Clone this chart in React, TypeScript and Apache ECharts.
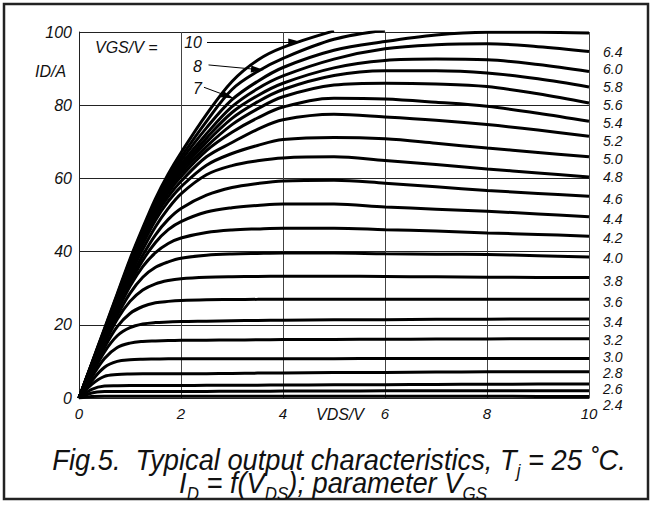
import { useEffect, useRef } from "react";
import * as echarts from "echarts";

// Drain-source voltage sample points (V)
const vds = [0, 0.25, 0.5, 0.75, 1, 1.25, 1.5, 1.75, 2, 2.5, 3, 3.5, 4, 5, 6, 7, 8, 9, 10];

// Drain current (A) for each gate-source voltage, sampled at vds
const id10 = [0, 9.5, 19.0, 28.5, 38.0, 46.5, 54.5, 61.2, 67.0, 77.5, 86.5, 92.3, 95.8, 100.3, null, null, null, null, null];
const id8 = [0, 9.4, 18.8, 28.2, 37.5, 46.0, 53.8, 60.3, 65.8, 75.6, 84.3, 89.2, 92.8, 98.0, 100.5, null, null, null, null];
const id7 = [0, 9.3, 18.6, 27.9, 37.1, 45.5, 53.2, 59.5, 64.8, 73.8, 81.5, 86.5, 90.3, 95.0, 97.4, 99.2, 99.9, 99.9, 99.7];
const id6_4 = [0, 9.2, 18.4, 27.6, 36.7, 45.1, 52.6, 58.7, 63.8, 72.2, 79.6, 84.5, 88.0, 92.6, 95.4, 96.5, 96.8, 96.0, 94.7];
const id6_0 = [0, 9.15, 18.3, 27.4, 36.4, 44.7, 52.1, 58.1, 63.0, 71.0, 78.0, 82.6, 86.0, 90.2, 92.2, 92.6, 92.4, 91.1, 89.2];
const id5_8 = [0, 9.1, 18.2, 27.2, 36.1, 44.3, 51.6, 57.5, 62.3, 69.9, 76.4, 80.9, 84.3, 88.1, 89.4, 89.4, 88.8, 87.2, 85.0];
const id5_6 = [0, 9.05, 18.1, 27.0, 35.8, 43.9, 51.1, 56.9, 61.5, 68.7, 74.7, 79.0, 82.3, 85.5, 86.0, 85.8, 85.1, 83.1, 80.6];
const id5_4 = [0, 9.0, 17.9, 26.8, 35.4, 43.4, 50.5, 56.1, 60.5, 67.6, 72.6, 76.5, 79.5, 81.9, 81.7, 80.8, 79.7, 77.8, 75.6];
const id5_2 = [0, 8.9, 17.7, 26.5, 35.0, 42.8, 49.7, 55.0, 59.2, 65.9, 69.8, 73.4, 76.0, 77.5, 76.8, 75.9, 74.7, 73.2, 71.5];
const id5_0 = [0, 8.8, 17.5, 26.1, 34.4, 42.0, 48.6, 53.7, 57.7, 63.6, 66.8, 69.0, 70.6, 71.2, 70.8, 69.6, 68.3, 67.1, 65.9];
const id4_8 = [0, 8.6, 17.1, 25.5, 33.5, 40.6, 46.8, 51.8, 55.8, 61.0, 63.5, 64.8, 65.6, 65.9, 64.9, 63.8, 62.6, 61.5, 60.4];
const id4_6 = [0, 8.4, 16.7, 24.8, 32.4, 39.0, 44.6, 48.8, 51.8, 55.4, 57.5, 58.6, 59.3, 59.5, 58.7, 57.7, 56.7, 55.9, 55.1];
const id4_4 = [0, 8.25, 16.3, 24.2, 31.4, 37.6, 42.5, 46.0, 48.2, 50.8, 52.0, 52.6, 53.0, 53.0, 52.2, 51.6, 51.0, 50.3, 49.5];
const id4_2 = [0, 8.1, 15.9, 23.6, 30.5, 35.9, 39.7, 42.2, 43.7, 45.2, 45.9, 46.2, 46.4, 46.4, 46.0, 45.6, 45.1, 44.7, 44.2];
const id4_0 = [0, 7.8, 15.4, 22.6, 28.6, 33.0, 35.7, 37.2, 38.2, 39.0, 39.35, 39.5, 39.6, 39.6, 39.4, 39.3, 39.2, 38.9, 38.5];
const id3_8 = [0, 7.5, 14.8, 21.5, 26.4, 29.5, 31.2, 32.1, 32.6, 33.0, 33.15, 33.2, 33.25, 33.25, 33.2, 33.1, 33.0, 32.95, 32.9];
const id3_6 = [0, 7.0, 13.8, 19.5, 23.1, 25.0, 26.0, 26.4, 26.65, 26.85, 26.9, 26.95, 27.0, 27.0, 27.0, 27.0, 27.0, 27.0, 27.0];
const id3_4 = [0, 6.5, 12.6, 17.0, 19.2, 20.2, 20.6, 20.75, 20.9, 21.0, 21.1, 21.2, 21.25, 21.35, 21.4, 21.5, 21.55, 21.6, 21.6];
const id3_2 = [0, 5.7, 10.8, 13.8, 15.0, 15.45, 15.6, 15.7, 15.75, 15.8, 15.85, 15.9, 15.95, 16.0, 16.05, 16.1, 16.15, 16.2, 16.2];
const id3_0 = [0, 4.7, 8.4, 10.0, 10.45, 10.6, 10.65, 10.7, 10.7, 10.7, 10.7, 10.75, 10.75, 10.75, 10.8, 10.8, 10.8, 10.8, 10.8];
const id2_8 = [0, 3.7, 5.9, 6.4, 6.55, 6.6, 6.6, 6.6, 6.6, 6.65, 6.7, 6.8, 6.85, 6.95, 7.0, 7.1, 7.15, 7.2, 7.2];
const id2_6 = [0, 2.35, 3.25, 3.35, 3.4, 3.4, 3.4, 3.4, 3.4, 3.45, 3.5, 3.5, 3.55, 3.6, 3.65, 3.7, 3.75, 3.8, 3.8];
const id2_4 = [0, 1.35, 1.75, 1.8, 1.8, 1.8, 1.8, 1.8, 1.8, 1.8, 1.85, 1.85, 1.9, 1.9, 1.95, 1.95, 2.0, 2.0, 2.0];
const id2_2 = [0, 0.4, 0.5, 0.5, 0.5, 0.5, 0.5, 0.5, 0.5, 0.5, 0.5, 0.5, 0.5, 0.5, 0.5, 0.5, 0.5, 0.4, 0.4];

const curves: [string, (number | null)[]][] = [
  ["10", id10], ["8", id8], ["7", id7], ["6.4", id6_4], ["6.0", id6_0],
  ["5.8", id5_8], ["5.6", id5_6], ["5.4", id5_4], ["5.2", id5_2], ["5.0", id5_0],
  ["4.8", id4_8], ["4.6", id4_6], ["4.4", id4_4], ["4.2", id4_2], ["4.0", id4_0],
  ["3.8", id3_8], ["3.6", id3_6], ["3.4", id3_4], ["3.2", id3_2], ["3.0", id3_0],
  ["2.8", id2_8], ["2.6", id2_6], ["2.4", id2_4], ["2.2", id2_2],
];

// Axis ticks
const xTicks = [0, 2, 4, 6, 8, 10];
const yTicks = [0, 20, 40, 60, 80, 100];

// Gate voltage labels listed down the right-hand side
const rightLabels = ["6.4", "6.0", "5.8", "5.6", "5.4", "5.2", "5.0", "4.8", "4.6", "4.4",
  "4.2", "4.0", "3.8", "3.6", "3.4", "3.2", "3.0", "2.8", "2.6", "2.4"];
const rightLabelTop = [51.7, 69, 87, 105, 123, 140.7, 159.3, 177.3, 199, 219,
  238.3, 258.3, 280.7, 301.7, 322.3, 340.3, 356.5, 372.7, 388.9, 405];

// Callout arrows (VDS, ID) for the 10 V, 8 V and 7 V curves
const calloutFrom = [[2.51, 97.3], [2.54, 91.0], [2.45, 84.9]];
const calloutTo = [[4.23, 97.3], [3.50, 89.75], [2.92, 82.46]];
const calloutText = ["10", "8", "7"];
const calloutTextY = [42.5, 66, 88.5];

const FONT = "'Liberation Sans', Arial, Helvetica, sans-serif";
const INK = "#111";

export default function App() {
  const ref = useRef<HTMLDivElement>(null);

  useEffect(() => {
    if (!ref.current) return;
    const chart = echarts.init(ref.current, undefined, { renderer: "svg" });

    const series: any[] = curves.map(([vgs, ys], k) => ({
      name: `VGS = ${vgs} V`,
      type: "line",
      data: vds.map((x, i) => [x, ys[i]]).filter((p) => p[1] !== null),
      smooth: 0.35,
      symbol: "none",
      clip: true,
      silent: true,
      lineStyle: { color: "#000", width: 3 },
      z: 3,
      markLine:
        k === 0
          ? {
              silent: true,
              symbol: ["none", "triangle"],
              symbolSize: [7, 13],
              label: { show: false },
              lineStyle: { color: "#000", width: 1, type: "solid" },
              data: calloutFrom.map((f, j) => [
                { coord: f },
                { coord: calloutTo[j] },
              ]),
            }
          : undefined,
    }));

    const textStyle = (size: number) => ({
      fontFamily: FONT,
      fontStyle: "italic",
      fontSize: size,
      fill: INK,
    });

    // main text is lifted by its bottom padding; subscripts sit a little lower
    const captionRich = {
      t: { fontFamily: FONT, fontStyle: "italic", fontSize: 29, fill: INK, color: INK, lineHeight: 17, verticalAlign: "bottom", padding: [0, 0, 9, 0] },
      s: { fontFamily: FONT, fontStyle: "italic", fontSize: 18, fill: INK, color: INK, lineHeight: 17, verticalAlign: "bottom", padding: [0, 0, 4, 0] },
    };

    const graphic: any[] = [
      {
        type: "rect",
        shape: { x: 4, y: 4, width: 644, height: 495 },
        style: { fill: "none", stroke: "#222", lineWidth: 2.5 },
        silent: true,
      },
      {
        type: "text",
        x: 95,
        y: 47.5,
        style: { ...textStyle(16), text: "VGS/V =", align: "left", verticalAlign: "middle", textAlign: "left", textVerticalAlign: "middle" },
      },
      {
        type: "text",
        x: 35,
        y: 71,
        style: { ...textStyle(16), text: "ID/A", align: "left", verticalAlign: "middle", textAlign: "left", textVerticalAlign: "middle" },
      },
      {
        type: "text",
        x: 340,
        y: 414,
        style: { ...textStyle(16), text: "VDS/V", align: "center", verticalAlign: "middle", textAlign: "center", textVerticalAlign: "middle" },
      },
      ...calloutText.map((t, j) => ({
        type: "text",
        x: 202,
        y: calloutTextY[j],
        style: { ...textStyle(16), text: t, align: "right", verticalAlign: "middle", textAlign: "right", textVerticalAlign: "middle" },
      })),
      ...rightLabels.map((t, j) => ({
        type: "text",
        x: 603,
        y: rightLabelTop[j],
        style: { ...textStyle(14), text: t, align: "left", verticalAlign: "middle", textAlign: "left", textVerticalAlign: "middle" },
      })),
      {
        type: "text",
        x: 339,
        y: 475,
        scaleX: 0.94,
        style: {
          text: "{t|Fig.5.  Typical output characteristics, T}{s|j}{t| = 25 ˚C.}",
          align: "center",
          verticalAlign: "middle",
          textAlign: "center",
          textVerticalAlign: "middle",
          rich: captionRich,
        },
      },
      {
        type: "text",
        x: 333,
        y: 498,
        scaleX: 0.94,
        style: {
          text: "{t|I}{s|D}{t| = f(V}{s|DS}{t|); parameter V}{s|GS}",
          align: "center",
          verticalAlign: "middle",
          textAlign: "center",
          textVerticalAlign: "middle",
          rich: captionRich,
        },
      },
    ];

    chart.setOption({
      animation: false,
      backgroundColor: "#fff",
      grid: { left: 79, top: 32, width: 510, height: 366, containLabel: false },
      xAxis: {
        type: "value",
        min: xTicks[0],
        max: xTicks[xTicks.length - 1],
        interval: xTicks[1] - xTicks[0],
        axisLine: { show: true, lineStyle: { color: "#222", width: 1 } },
        axisTick: { show: false },
        axisLabel: { fontFamily: FONT, fontStyle: "italic", fontSize: 15, color: INK, margin: 8 },
        splitLine: { show: true, lineStyle: { color: "#444", width: 1 } },
      },
      yAxis: {
        type: "value",
        min: yTicks[0],
        max: yTicks[yTicks.length - 1],
        interval: yTicks[1] - yTicks[0],
        axisLine: { show: true, lineStyle: { color: "#222", width: 1 } },
        axisTick: { show: false },
        axisLabel: { fontFamily: FONT, fontStyle: "italic", fontSize: 16, color: INK, margin: 7 },
        splitLine: { show: true, lineStyle: { color: "#222", width: 1 } },
      },
      series,
      graphic,
    });

    return () => chart.dispose();
  }, []);

  return (
    <div
      ref={ref}
      style={{ position: "fixed", left: 0, top: 0, width: 652, height: 506, background: "#fff" }}
    />
  );
}
